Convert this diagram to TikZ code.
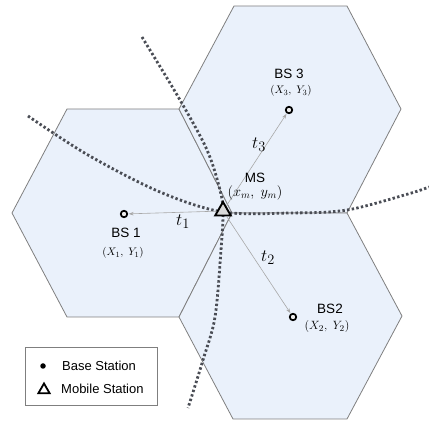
\documentclass[tikz,border=0pt]{standalone}
\usepackage{fontspec}
\setmainfont{Liberation Sans}
\usetikzlibrary{shapes.geometric,arrows.meta}
\definecolor{hexfill}{HTML}{EAF1FB}
\definecolor{hexline}{HTML}{7F7F7F}
\definecolor{dotline}{HTML}{4A4D55}
\definecolor{arrline}{HTML}{A8A8A8}
\begin{document}
\begin{tikzpicture}[x=1pt,y=-1pt,
  hex/.style={draw=hexline,fill=hexfill,line width=0.8pt,line join=miter},
  dotcurve/.style={draw=dotline,line width=2.8pt,dash pattern=on 2.4pt off 2.3pt},
  bsnode/.style={circle,draw=black,fill=white!85!gray,line width=1.7pt,inner sep=0pt,minimum size=6.5pt},
  msnode/.style={regular polygon,regular polygon sides=3,draw=black,fill=black!15,line width=1.9pt,inner sep=0pt,minimum size=18pt},
  link/.style={draw=arrline,line width=0.6pt,-{Stealth[length=5pt,width=3.5pt]},shorten >=0.5pt},
  bslab/.style={font=\fontsize{13.5}{13.5}\selectfont,inner sep=0pt},
  coordlab/.style={font=\fontsize{11}{11}\selectfont,inner sep=0pt},
  tlab/.style={font=\fontsize{19}{19}\selectfont,inner sep=0pt},
  legtext/.style={font=\fontsize{13}{13}\selectfont,anchor=west,inner sep=0pt}]
\useasboundingbox (0,0) rectangle (429,422);
% hexagons
\draw[hex] (12,213) -- (67,109) -- (179,109) -- (232,213) -- (179,317) -- (67,317) -- cycle;
\draw[hex] (179,109) -- (234,6) -- (347,6) -- (401,109) -- (347,213) -- (232,213) -- cycle;
\draw[hex] (232,213) -- (347,213) -- (402,316) -- (347,419) -- (233,419) -- (179,317) -- cycle;
% dotted hyperbolas
\draw[dotcurve] plot[smooth,tension=0.55] coordinates {(28,116) (88,155) (160,192) (223,212) (290,213) (347,210) (408,194) (429,187)};
\draw[dotcurve] plot[smooth,tension=0.55] coordinates {(142,37) (180,100) (207,150) (220,190) (223,212) (221,250) (215,317) (203,360) (188,408)};
% stations
\node[bsnode] (bs1) at (124,214) {};
\node[bsnode] (bs3) at (289,110) {};
\node[bsnode] (bs2) at (293,317) {};
\node[msnode] (ms) at (223,211) {};
% links
\draw[link] (ms) -- (bs1);
\draw[link] (ms) -- (bs3);
\draw[link] (ms) -- (bs2);
% labels
\node[bslab] (l3) at (289,74) {BS 3};
\node[coordlab] (c3) at (291,91) {$(X_3,\ Y_3)$};
\node[bslab] (l1) at (126,233) {BS 1};
\node[coordlab] (c1) at (123,253) {$(X_1,\ Y_1)$};
\node[bslab] (l2) at (330,309) {BS2};
\node[coordlab,font=\fontsize{12.5}{12.5}\selectfont] (c2) at (327,327) {$(X_2,\ Y_2)$};
\node[bslab] (lm) at (255,178) {MS};
\node[font=\fontsize{14.5}{14.5}\selectfont,inner sep=0pt] (cm) at (255,193) {$(x_m,\ y_m)$};
\node[tlab] (t1) at (183,222) {$t_1$};
\node[tlab] (t3) at (259,145) {$t_3$};
\node[tlab] (t2) at (268,258) {$t_2$};
% legend
\node[draw=hexline,fill=white,line width=0.8pt,minimum width=132pt,minimum height=58pt,inner sep=0pt] (leg) at (91,376) {};
\node[circle,fill=black,inner sep=0pt,minimum size=5.5pt] (legbs) at (43,366) {};
\node[regular polygon,regular polygon sides=3,draw=black,line width=1.8pt,inner sep=0pt,minimum size=13pt] (legms) at (44,390) {};
\node[legtext] (legt1) at (62,366) {Base Station};
\node[legtext] (legt2) at (61,389) {Mobile Station};
\end{tikzpicture}
\end{document}
